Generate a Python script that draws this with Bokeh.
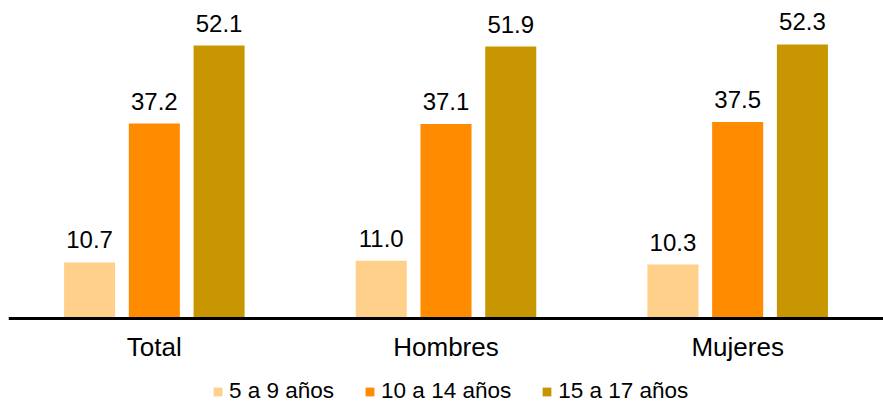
from bokeh.plotting import figure
from bokeh.models import FactorRange, Range1d, ColumnDataSource, LabelSet, Legend, LegendItem
from bokeh.core.properties import value
from bokeh.transform import dodge
from bokeh.embed import file_html
from bokeh.resources import INLINE

categories = ["Total", "Hombres", "Mujeres"]
series = ["5 a 9 años", "10 a 14 años", "15 a 17 años"]
v5_9 = [10.7, 11.0, 10.3]
v10_14 = [37.2, 37.1, 37.5]
v15_17 = [52.1, 51.9, 52.3]
colors = ["#FFD08A", "#FF8C00", "#C89600"]

values = [v5_9, v10_14, v15_17]
offsets = [-0.222, 0.0, 0.222]

p = figure(frame_width=875, frame_height=402, x_range=FactorRange(*categories),
           y_range=Range1d(-16.03, 60.69), output_backend="svg", toolbar_location=None,
           y_axis_location=None, min_border_left=8, min_border_right=0,
           min_border_top=0, min_border_bottom=0, outline_line_color=None)
p.xgrid.visible = False
p.ygrid.visible = False

items = []
for name, vals, off, col in zip(series, values, offsets, colors):
    src = ColumnDataSource(dict(cat=categories, val=vals, lab=[f"{v:.1f}" for v in vals]))
    r = p.vbar(x=dodge("cat", off, range=p.x_range), top="val", bottom=0, width=0.175,
               source=src, fill_color=col, line_color=None)
    items.append(LegendItem(label=name, renderers=[r]))
    lbl = LabelSet(x=dodge("cat", off, range=p.x_range), y="val", text="lab", source=src,
                   text_align="center", text_baseline="alphabetic", y_offset=14,
                   text_font=value("Liberation Sans"), text_font_size="24px",
                   text_color="black")
    p.add_layout(lbl)

ax = p.xaxis[0]
ax.fixed_location = 0
ax.axis_line_color = "black"
ax.axis_line_width = 3
ax.major_tick_line_color = None
ax.minor_tick_line_color = None
ax.major_tick_out = 0
ax.major_tick_in = 0
ax.major_label_standoff = 13
ax.axis_label_standoff = 0
ax.major_label_text_font = "Liberation Sans"
ax.major_label_text_font_size = "26px"
ax.major_label_text_color = "black"

legend = Legend(items=items, orientation="horizontal", location=(204, -2),
                glyph_width=11, glyph_height=11, label_height=20,
                label_text_font="Liberation Sans",
                label_text_font_size="22.5px", label_text_color="black", spacing=30,
                label_standoff=6, padding=0, margin=0, border_line_color=None,
                background_fill_alpha=0)
p.add_layout(legend, "center")

open("out.html", "w").write(file_html(p, INLINE))
